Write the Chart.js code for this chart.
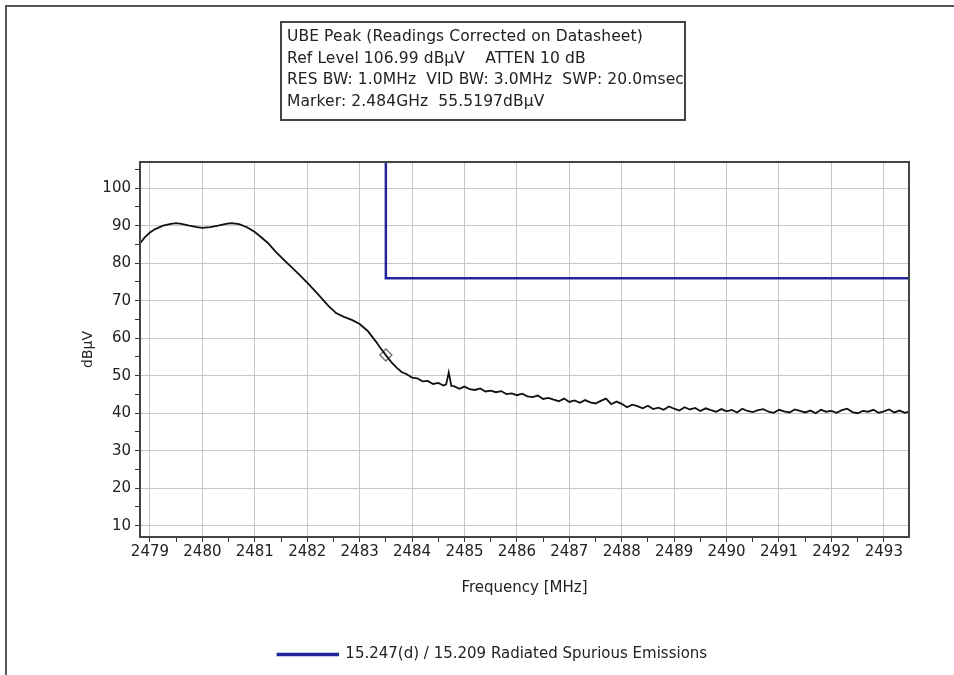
<!DOCTYPE html>
<html>
<head>
<meta charset="utf-8">
<script src="https://cdn.jsdelivr.net/npm/chart.js@4.4.1/dist/chart.umd.min.js"></script>
<style>
  body { margin: 0; background: #fff; }
  #wrap { position: relative; width: 954px; height: 675px; }
  #frame { position: absolute; left: 5px; top: 5px; width: 960px; height: 680px;
           border-top: 2px solid #555; border-left: 2px solid #555; }
  #info { position: absolute; left: 280px; top: 21px; width: 397px; height: 93px;
          border: 2px solid #444; font: 15.5px "DejaVu Sans", sans-serif;
          color: #222; line-height: 21.7px; padding: 3px 0 0 5px; white-space: nowrap;
          letter-spacing: 0.1px; }
</style>
</head>
<body>
<div id="wrap">
  <div id="frame"></div>
  <canvas id="spectrum" width="954" height="675"></canvas>
  <div id="info">
    UBE Peak (Readings Corrected on Datasheet)<br>
    Ref Level 106.99 dBµV &nbsp;&nbsp; ATTEN 10 dB<br>
    RES BW: 1.0MHz &nbsp;VID BW: 3.0MHz &nbsp;SWP: 20.0msec<br>
    Marker: 2.484GHz &nbsp;55.5197dBµV
  </div>
</div>
<script>
// trace (MHz / dBµV)
const freqSlope = [2478.81, 2478.9, 2479.0, 2479.1, 2479.25, 2479.4, 2479.5, 2479.6, 2479.75, 2479.9,
  2480.0, 2480.15, 2480.3, 2480.45, 2480.55, 2480.7, 2480.85, 2481.0, 2481.1, 2481.25,
  2481.4, 2481.6, 2481.8, 2482.0, 2482.2, 2482.4, 2482.55, 2482.7, 2482.85, 2483.0,
  2483.15, 2483.3, 2483.4];
const levelSlope = [85.3, 86.9, 88.2, 89.1, 90.0, 90.5, 90.7, 90.5, 90.0, 89.6,
  89.4, 89.6, 90.0, 90.5, 90.7, 90.4, 89.6, 88.3, 87.2, 85.4,
  83.0, 80.3, 77.6, 74.8, 71.8, 68.7, 66.7, 65.7, 64.9, 63.8,
  62.0, 59.3, 57.3];

const freqFloor = [2483.5, 2483.6, 2483.7, 2483.8, 2483.9, 2484.0, 2484.1, 2484.2, 2484.3, 2484.4,
  2484.5, 2484.6, 2484.65, 2484.7, 2484.75, 2484.8, 2484.9, 2485.0, 2485.1, 2485.2, 2485.3, 2485.4,
  2485.5, 2485.6, 2485.7, 2485.8, 2485.9, 2486.0, 2486.1, 2486.2, 2486.3, 2486.4,
  2486.5, 2486.6, 2486.7, 2486.8, 2486.9, 2487.0, 2487.1, 2487.2, 2487.3, 2487.4,
  2487.5, 2487.6, 2487.7, 2487.8, 2487.9, 2488.0, 2488.1, 2488.2, 2488.3, 2488.4,
  2488.5, 2488.6, 2488.7, 2488.8, 2488.9, 2489.0, 2489.1, 2489.2, 2489.3, 2489.4,
  2489.5, 2489.6, 2489.7, 2489.8, 2489.9, 2490.0, 2490.1, 2490.2, 2490.3, 2490.4,
  2490.5, 2490.6, 2490.7, 2490.8, 2490.9, 2491.0, 2491.1, 2491.2, 2491.3, 2491.4,
  2491.5, 2491.6, 2491.7, 2491.8, 2491.9, 2492.0, 2492.1, 2492.2, 2492.3, 2492.4,
  2492.5, 2492.6, 2492.7, 2492.8, 2492.9, 2493.0, 2493.1, 2493.2, 2493.3, 2493.4, 2493.48];
const levelFloor = [55.5, 53.7, 52.2, 51.0, 50.4, 49.5, 49.3, 48.5, 48.6, 47.8,
  48.1, 47.4, 47.7, 50.9, 47.3, 47.2, 46.5, 47.1, 46.4, 46.2, 46.6, 45.8,
  46.0, 45.6, 45.9, 45.1, 45.3, 44.8, 45.2, 44.5, 44.3, 44.7,
  43.8, 44.1, 43.6, 43.2, 43.9, 43.0, 43.4, 42.8, 43.5, 42.9,
  42.6, 43.3, 43.9, 42.4, 43.1, 42.5, 41.6, 42.3, 41.9, 41.3,
  42.0, 41.1, 41.5, 40.9, 41.8, 41.2, 40.7, 41.6, 41.0, 41.4,
  40.6, 41.3, 40.8, 40.4, 41.1, 40.5, 40.9, 40.2, 41.2, 40.6,
  40.3, 40.8, 41.1, 40.4, 40.1, 40.9, 40.5, 40.2, 41.0, 40.6,
  40.2, 40.7, 40.0, 40.9, 40.4, 40.6, 40.1, 40.8, 41.2, 40.3,
  40.0, 40.6, 40.4, 40.9, 40.1, 40.5, 41.0, 40.2, 40.7, 40.1, 40.4];

// 15.247(d) / 15.209 limit line
const limitFreq = [2483.5, 2483.5, 2493.48];
const limitLevel = [106.99, 76.0, 76.0];

const markerFreq = [2483.5];
const markerLevel = [55.52];

const freqTicks = [2479, 2480, 2481, 2482, 2483, 2484, 2485, 2486, 2487, 2488, 2489, 2490, 2491, 2492, 2493];
const levelTicks = [10, 20, 30, 40, 50, 60, 70, 80, 90, 100];

const toPoints = (xs, ys) => xs.map((x, i) => ({ x: x, y: ys[i] }));
const trace = toPoints(freqSlope, levelSlope).concat(toPoints(freqFloor, levelFloor));

const isMajor = (v, list) => list.some((t) => Math.abs(t - v) < 1e-6);

const frameBox = {
  id: "frameBox",
  afterDatasetsDraw(chart) {
    const { ctx, chartArea: a } = chart;
    ctx.save();
    ctx.strokeStyle = "#444";
    ctx.lineWidth = 2;
    ctx.strokeRect(a.left, a.top, a.right - a.left, a.bottom - a.top);
    ctx.restore();
  },
};

const font = { family: "'DejaVu Sans', sans-serif", size: 15 };
Chart.defaults.color = "#222";

new Chart(document.getElementById("spectrum").getContext("2d"), {
  type: "scatter",
  data: {
    datasets: [
      {
        label: "trace",
        data: trace,
        showLine: true,
        borderColor: "#111",
        borderWidth: 1.8,
        pointRadius: 0,
      },
      {
        label: "15.247(d) / 15.209 Radiated Spurious Emissions",
        data: toPoints(limitFreq, limitLevel),
        showLine: true,
        borderColor: "#25259a",
        backgroundColor: "#25259a",
        borderWidth: 2.5,
        pointRadius: 0,
      },
      {
        label: "marker",
        data: toPoints(markerFreq, markerLevel),
        pointStyle: "rectRot",
        pointRadius: 6,
        borderColor: "#777",
        borderWidth: 1.5,
        backgroundColor: "rgba(0,0,0,0)",
      },
    ],
  },
  options: {
    responsive: false,
    animation: false,
    layout: { padding: { left: 76, top: 162, right: 45, bottom: 3 } },
    plugins: {
      tooltip: { enabled: false },
      legend: {
        position: "bottom",
        labels: {
          font: font,
          color: "#222",
          boxWidth: 60,
          boxHeight: 1,
          padding: 10,
          filter: (item) => item.datasetIndex === 1,
        },
      },
    },
    scales: {
      x: {
        type: "linear",
        min: 2478.81,
        max: 2493.48,
        afterBuildTicks: (scale) => {
          const t = [];
          freqTicks.forEach((f) => {
            t.push({ value: f });
            if (f < 2493) t.push({ value: f + 0.5 });
          });
          scale.ticks = t;
        },
        afterFit: (scale) => { scale.height = 100; },
        ticks: {
          font: font,
          padding: 1,
          autoSkip: false,
          maxRotation: 0,
          callback: (v) => (isMajor(v, freqTicks) ? String(v) : ""),
        },
        grid: {
          color: (c) => (c.tick && isMajor(c.tick.value, freqTicks) ? "#c6c6c6" : "rgba(0,0,0,0)"),
          tickColor: "#333",
          tickLength: 5,
          lineWidth: 1,
        },
        border: { color: "#444", width: 2 },
        title: { display: true, text: "Frequency [MHz]", font: font, padding: { top: 0, bottom: 40 } },
      },
      y: {
        min: 6.99,
        max: 106.99,
        afterBuildTicks: (scale) => {
          const t = [];
          levelTicks.forEach((v) => { t.push({ value: v }); t.push({ value: v + 5 }); });
          scale.ticks = t;
        },
        afterFit: (scale) => { scale.width = 64; },
        ticks: {
          font: font,
          padding: 4,
          autoSkip: false,
          callback: (v) => (isMajor(v, levelTicks) ? String(v) : ""),
        },
        grid: {
          color: (c) => (c.tick && isMajor(c.tick.value, levelTicks) ? "#c6c6c6" : "rgba(0,0,0,0)"),
          tickColor: "#333",
          tickLength: 5,
          lineWidth: 1,
        },
        border: { color: "#444", width: 2 },
        title: { display: true, text: "dBµV", font: { family: font.family, size: 14 }, padding: 4 },
      },
    },
  },
  plugins: [frameBox],
});
</script>
</body>
</html>
